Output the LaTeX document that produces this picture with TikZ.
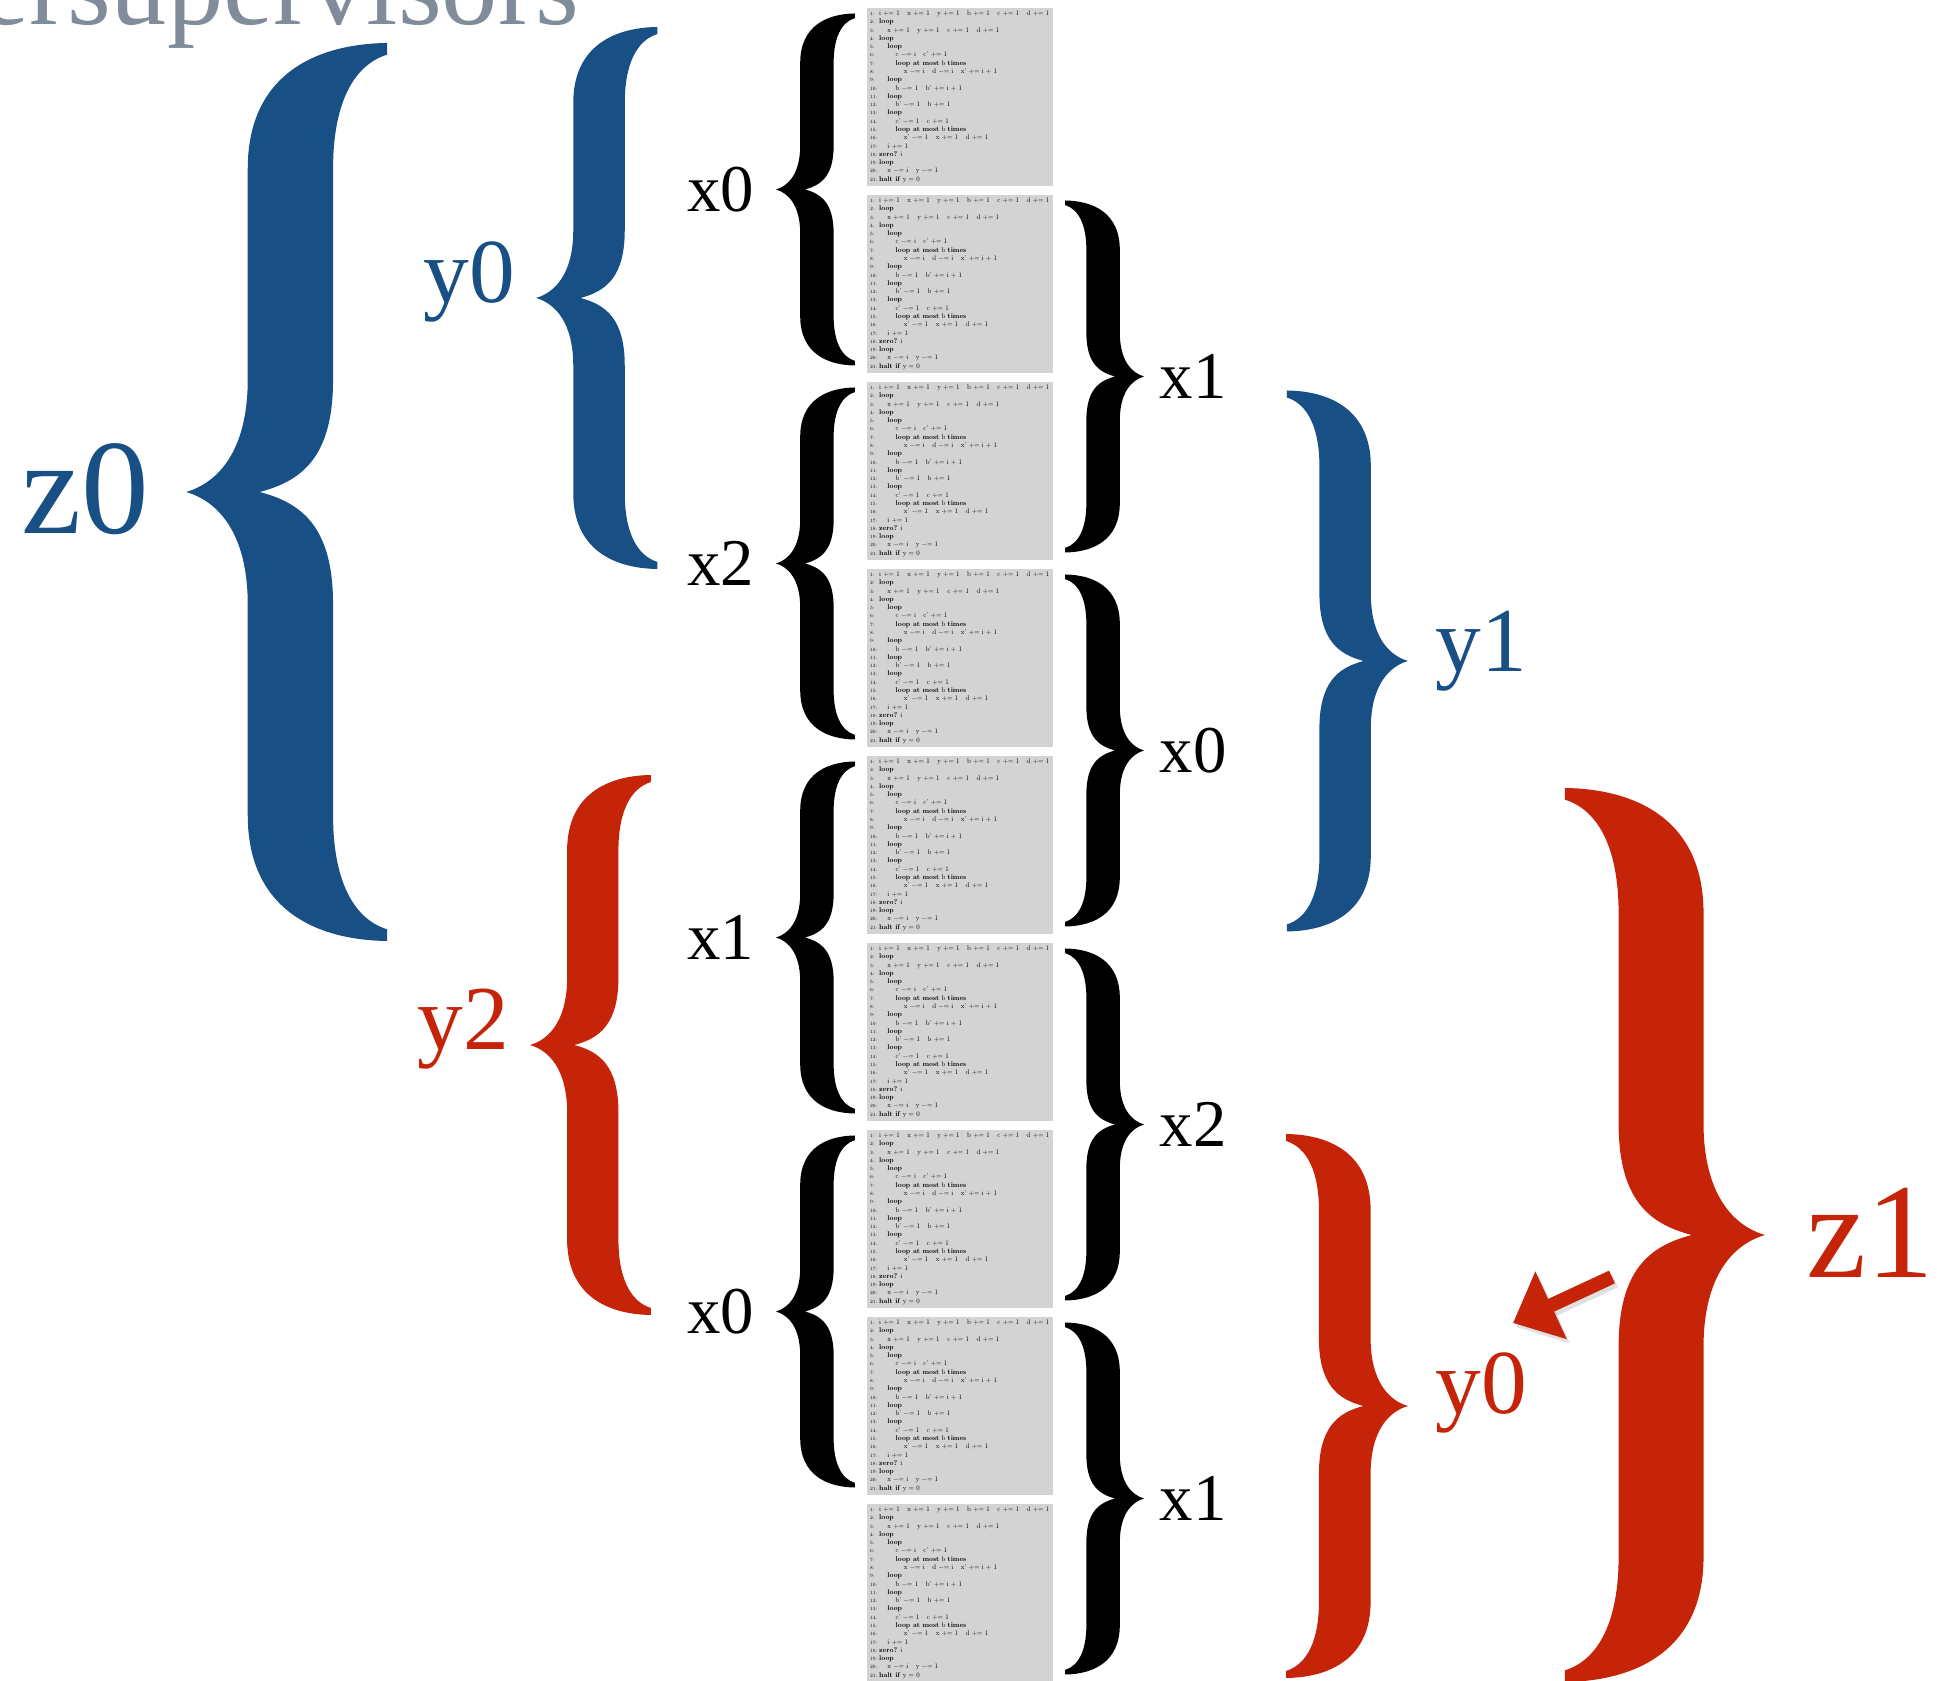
\documentclass[tikz,border=0pt]{standalone}
\usepackage{fontspec}
\usepackage{graphicx}
\usepackage{tikz}
\usetikzlibrary{arrows.meta}

\newfontfamily\labelfont{Liberation Serif}

\definecolor{supblue}{RGB}{24,79,133}
\definecolor{supred}{RGB}{197,36,8}
\definecolor{titlegrey}{RGB}{128,140,153}
\definecolor{listgrey}{RGB}{211,211,211}

\newcommand\lno[1]{\makebox[1.3em][l]{\scriptsize#1:}}
\newcommand\lind{\hspace*{1.2em}}
\newcommand\lgap{\hspace{1.1em}}
\newcommand\listing{\resizebox*{1.79cm}{1.74cm}{\begin{tabular}[b]{@{}l@{}}
\lno{1}i += 1\lgap x += 1\lgap y += 1\lgap b += 1\lgap c += 1\lgap d += 1\\
\lno{2}\textbf{loop}\\
\lno{3}\lind x += 1\lgap y += 1\lgap c += 1\lgap d += 1\\
\lno{4}\textbf{loop}\\
\lno{5}\lind\textbf{loop}\\
\lno{6}\lind\lind c −= i\lgap c' += 1\\
\lno{7}\lind\lind\textbf{loop at most} b \textbf{times}\\
\lno{8}\lind\lind\lind x −= i\lgap d −= i\lgap x' += i + 1\\
\lno{9}\lind\textbf{loop}\\
\lno{10}\lind\lind b −= 1\lgap b' += i + 1\\
\lno{11}\lind\textbf{loop}\\
\lno{12}\lind\lind b' −= 1\lgap b += 1\\
\lno{13}\lind\textbf{loop}\\
\lno{14}\lind\lind c' −= 1\lgap c += 1\\
\lno{15}\lind\lind\textbf{loop at most} b \textbf{times}\\
\lno{16}\lind\lind\lind x' −= 1\lgap x += 1\lgap d += 1\\
\lno{17}\lind i += 1\\
\lno{18}\textbf{zero?} i\\
\lno{19}\textbf{loop}\\
\lno{20}\lind x −= i\lgap y −= 1\\
\lno{21}\textbf{halt if} y = 0
\end{tabular}}}

\tikzset{
  curlybrace/.pic={
    \fill (0,0) .. controls (0.07,0.02) and (0.1375,0.09) .. (0.1375,0.25)
      -- (0.1375,0.72) .. controls (0.1375,0.93) and (0.29,0.998) .. (0.448,1)
      -- (0.448,0.974) .. controls (0.37,0.95) and (0.3275,0.86) .. (0.3275,0.72)
      -- (0.3275,0.25) .. controls (0.3275,0.08) and (0.26,0.025) .. (0.164,0)
      .. controls (0.26,-0.025) and (0.3275,-0.08) .. (0.3275,-0.25)
      -- (0.3275,-0.72) .. controls (0.3275,-0.86) and (0.37,-0.95) .. (0.448,-0.974)
      -- (0.448,-1) .. controls (0.29,-0.998) and (0.1375,-0.93) .. (0.1375,-0.72)
      -- (0.1375,-0.25) .. controls (0.1375,-0.09) and (0.07,-0.02) .. (0,0) -- cycle;
  },
  listbox/.style={fill=listgrey, anchor=north west, inner sep=0pt,
    minimum width=1.86cm, minimum height=1.78cm},
  xlab/.style={inner sep=0pt, font=\labelfont\fontsize{19}{19}\selectfont},
  ylab/.style={inner sep=0pt, font=\labelfont\fontsize{26}{26}\selectfont},
  zlab/.style={inner sep=0pt, font=\labelfont\fontsize{38.5}{38.5}\selectfont},
  heading/.style={inner sep=0pt, anchor=base west, text=titlegrey,
    font=\labelfont\fontsize{32}{32}\selectfont},
  pointer/.style={line width=0.14cm, -{Triangle[length=0.42cm,width=0.72cm]}}
}

\begin{document}
\begin{tikzpicture}
\useasboundingbox (0,0) rectangle (19.4,16.8);
\clip (0,0) rectangle (19.4,16.8);

\node[heading] (title) at (-0.21,16.55) {ersupervisors};

\foreach \k in {0,...,8}
  \node[listbox] (box\k) at (8.66,{16.73-1.87*\k}) {\listing};

\foreach \k/\lab in {0/x0,1/x2,2/x1,3/x0} {
  \pic[black,scale=1.76] at (7.76,{14.905-3.74*\k}) {curlybrace};
  \node[xlab,anchor=base east] (xl\k) at (7.55,{14.685-3.74*\k}) {\lab};
}
\foreach \k/\lab in {0/x1,1/x0,2/x2,3/x1} {
  \pic[black,xscale=-1.76,yscale=1.76] at (11.44,{13.035-3.74*\k}) {curlybrace};
  \node[xlab,anchor=base west] (xr\k) at (11.59,{12.815-3.74*\k}) {\lab};
}

\pic[supblue,scale=2.71] at (5.36,13.82) {curlybrace};
\node[ylab,text=supblue,anchor=base east] (y0) at (5.16,13.77) {y0};
\pic[supred,scale=2.70] at (5.30,6.35) {curlybrace};
\node[ylab,text=supred,anchor=base east] (y2) at (5.10,6.30) {y2};
\pic[supblue,scale=4.49] at (1.86,11.88) {curlybrace};
\node[zlab,text=supblue,anchor=base east] (z0) at (1.50,11.46) {z0};

\pic[supblue,xscale=-2.705,yscale=2.705] at (14.08,10.19) {curlybrace};
\node[ylab,text=supblue,anchor=base west] (y1) at (14.35,10.08) {y1};
\pic[supred,xscale=-2.72,yscale=2.72] at (14.08,2.74) {curlybrace};
\node[ylab,text=supred,anchor=base west] (y0r) at (14.35,2.66) {y0};
\pic[supred,xscale=-4.47,yscale=4.47] at (17.65,4.45) {curlybrace};
\node[zlab,text=supred,anchor=base west] (z1) at (18.06,4.02) {z1};

\coordinate (ptrtail) at (16.12,4.03);
\coordinate (ptrhead) at (15.13,3.57);
\draw[pointer,black,opacity=0.12] ([shift={(0.03,-0.04)}]ptrtail) -- ([shift={(0.03,-0.04)}]ptrhead);
\draw[pointer,supred] (ptrtail) -- (ptrhead);
\end{tikzpicture}
\end{document}
